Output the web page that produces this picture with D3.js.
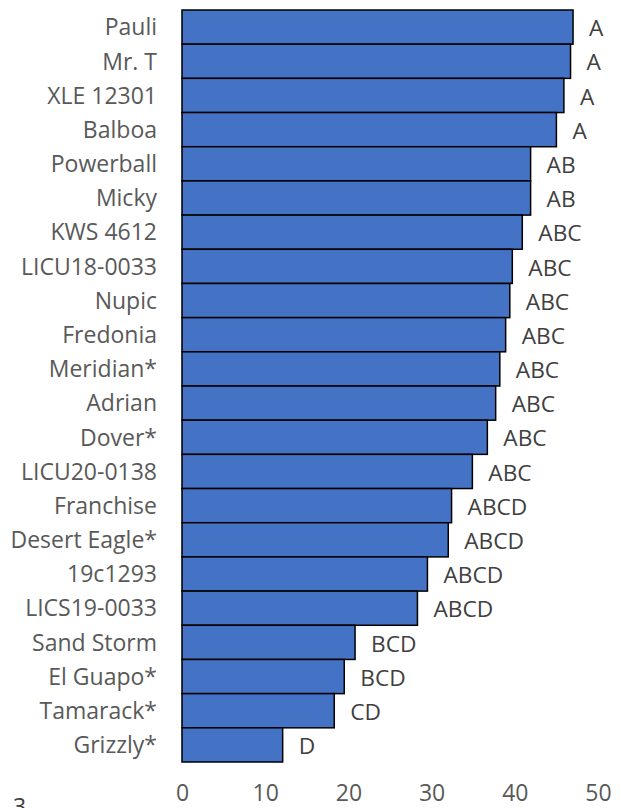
<!DOCTYPE html>
<meta charset="utf-8">
<head>
	<style type="text/css">
		body { margin: 0; background: #fff; }
		.cat text, .tick text { font-family: "Open Sans", sans-serif; }
		.letter { font-family: "Open Sans", sans-serif; fill: #404040; }
	</style>
	<title>Yield by variety</title>
</head>
<script src="https://cdn.jsdelivr.net/npm/d3@7"></script>
<svg width="621" height="808" id="svg1"></svg>

<script>
	const varieties = ["Pauli", "Mr. T", "XLE 12301", "Balboa", "Powerball", "Micky", "KWS 4612",
		"LICU18-0033", "Nupic", "Fredonia", "Meridian*", "Adrian", "Dover*", "LICU20-0138",
		"Franchise", "Desert Eagle*", "19c1293", "LICS19-0033", "Sand Storm", "El Guapo*",
		"Tamarack*", "Grizzly*"];
	const yields = [47.0, 46.7, 45.9, 45.0, 41.9, 41.9, 40.9, 39.7, 39.4, 38.9, 38.2, 37.7,
		36.7, 34.9, 32.4, 32.0, 29.5, 28.3, 20.8, 19.5, 18.3, 12.1];
	const letters = ["A", "A", "A", "A", "AB", "AB", "ABC", "ABC", "ABC", "ABC", "ABC", "ABC",
		"ABC", "ABC", "ABCD", "ABCD", "ABCD", "ABCD", "BCD", "BCD", "CD", "D"];
	const xTicks = [0, 10, 20, 30, 40, 50];

	const data = varieties.map((v, i) => ({ name: v, value: yields[i], letter: letters[i] }));

	const svg1 = d3.select('#svg1');

	const xScale = d3.scaleLinear().domain([0, 50]).range([182, 598]);
	const yScale = d3.scaleBand().domain(varieties).range([10, 762]).padding(0);

	// axis line at zero
	svg1.append('line')
		.attr('x1', xScale(0)).attr('x2', xScale(0))
		.attr('y1', yScale.range()[0]).attr('y2', yScale.range()[1])
		.attr('stroke', '#d9d9d9').attr('stroke-width', 1.5);

	// bars
	svg1.selectAll('.bar')
		.data(data)
		.enter().append('rect')
		.attr('class', 'bar')
		.attr('x', xScale(0))
		.attr('y', d => yScale(d.name))
		.attr('width', d => xScale(d.value) - xScale(0))
		.attr('height', yScale.bandwidth())
		.attr('fill', '#4472c4')
		.attr('stroke', '#000')
		.attr('stroke-width', 1.5);

	// letter labels
	svg1.selectAll('.letter')
		.data(data)
		.enter().append('text')
		.attr('class', 'letter')
		.attr('x', d => xScale(d.value) + 16)
		.attr('y', d => yScale(d.name) + yScale.bandwidth() / 2 + 1)
		.attr('dy', '0.36em')
		.attr('font-size', '22.7px')
		.text(d => d.letter);

	// category axis
	const yAxis = d3.axisLeft(yScale).tickSize(0).tickPadding(25);
	const yG = svg1.append('g').attr('class', 'cat')
		.attr('transform', `translate(${xScale(0)},0)`)
		.call(yAxis);
	yG.select('.domain').remove();
	yG.selectAll('text').attr('font-size', '23px').attr('fill', '#595959').attr('dy', '0.36em');

	// value axis
	const xAxis = d3.axisBottom(xScale).tickValues(xTicks).tickSize(0).tickPadding(0);
	const xG = svg1.append('g')
		.attr('transform', 'translate(0,785)')
		.call(xAxis);
	xG.select('.domain').remove();
	xG.selectAll('text').attr('font-size', '23px').attr('fill', '#595959');

	// stray page number at the bottom edge
	svg1.append('text')
		.attr('x', 13).attr('y', 815)
		.attr('font-family', '"Open Sans", sans-serif')
		.attr('font-size', '23px')
		.attr('fill', '#404040')
		.text('3');
</script>
